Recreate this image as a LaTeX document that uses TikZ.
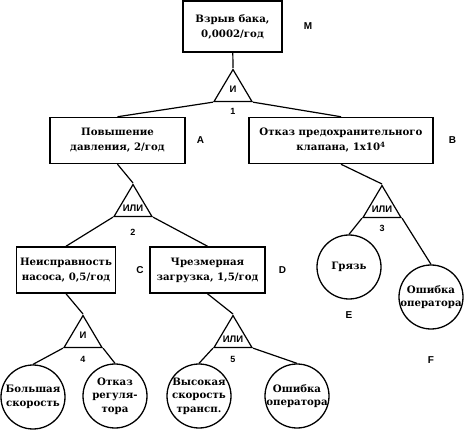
\documentclass[tikz,border=0pt]{standalone}
\usepackage{fontspec}
\setmainfont{DejaVu Serif}
\setsansfont{Liberation Sans}
\usetikzlibrary{positioning, shapes.geometric}

\begin{document}
\begin{tikzpicture}[
    x = 1pt, y = -1pt,
    evbox/.style = {
      rectangle, draw, line width = 1.5pt,
      align = center, inner sep = 0pt,
      minimum height = 46pt,
      font = \fontsize{10.2}{15}\selectfont\bfseries
    },
    evcirc/.style = {
      circle, draw, line width = 1.3pt,
      align = center, inner sep = -8pt,
      minimum size = 64pt,
      font = \fontsize{10.2}{13.5}\selectfont\bfseries
    },
    gate/.style = {
      isosceles triangle, isosceles triangle stretches,
      shape border rotate = 90, draw, line width = 1.2pt,
      minimum width = 38pt, minimum height = 32pt,
      inner xsep = -5pt, inner ysep = -2pt,
      font = \sffamily\bfseries\fontsize{9.5}{9.5}\selectfont
    },
    tag/.style = {font = \sffamily\bfseries\fontsize{10}{10}\selectfont, inner sep = 0pt},
    num/.style = {font = \sffamily\bfseries\fontsize{9}{9}\selectfont, inner sep = 0pt},
    conn/.style = {line width = 1.2pt}
  ]
  \useasboundingbox (0,0) rectangle (466,430);

  % Головное событие и вентиль 1
  \node[evbox, minimum width = 99pt, minimum height = 51pt] (M) at (232.5,26.5) {Взрыв бака,\\0,0002/год};
  \node[gate, anchor = apex] (g1) at (233,68) {И};

  % Второй уровень
  \node[evbox, minimum width = 135pt] (A) at (117.5,140.5) {Повышение\\давления, 2/год};
  \node[evbox, minimum width = 184pt] (B) at (341,140.5) {Отказ предохранительного\\клапана, 1x10\textsuperscript{4}};
  \node[gate, anchor = apex] (g2) at (133,183) {ИЛИ};
  \node[gate, anchor = apex] (g3) at (382,184) {ИЛИ};

  % Третий уровень
  \node[evbox, minimum width = 99pt] (C) at (66,270) {Неисправность\\насоса, 0,5/год};
  \node[evbox, minimum width = 115pt] (D) at (207.5,270) {Чрезмерная\\загрузка, 1,5/год};
  \node[evcirc] (E) at (349,267) {Грязь};
  \node[evcirc] (F) at (431,297) {Ошибка\\оператора};
  \node[gate, anchor = apex] (g4) at (83,314) {И};
  \node[gate, anchor = apex] (g5) at (233,314) {ИЛИ};

  % Исходные события
  \node[evcirc] (c1) at (33,397) {Большая\\скорость};
  \node[evcirc] (c2) at (115,396) {Отказ\\регуля-\\тора};
  \node[evcirc] (c3) at (199,396) {Высокая\\скорость\\трансп.};
  \node[evcirc] (c4) at (297,396) {Ошибка\\оператора};

  % Буквенные и числовые метки
  \node[tag, right = 21pt of M] (tM) {M};
  \node[tag, right = 11pt of A] (tA) {A};
  \node[tag, right = 15pt of B] (tB) {B};
  \node[tag, right = 20pt of C] (tC) {C};
  \node[tag, right = 13pt of D] (tD) {D};
  \node[tag, below = 12pt of E] (tE) {E};
  \node[tag, below = 27pt of F] (tF) {F};
  \node[num, below = 6pt of g1] (n1) {1};
  \node[num, below = 12pt of g2] (n2) {2};
  \node[num, below = 7pt of g3] (n3) {3};
  \node[num, below = 8pt of g4] (n4) {4};
  \node[num, below = 8pt of g5] (n5) {5};

  % Связи
  \draw[conn] (M) -- (g1.apex);
  \draw[conn] (g1.left corner) -- (A.north);
  \draw[conn] (g1.right corner) -- (B.north);
  \draw[conn] (A.south) -- (g2.apex);
  \draw[conn] (B.south) -- (g3.apex);
  \draw[conn] (g2.left corner) -- (C.north);
  \draw[conn] (g2.right corner) -- (D.north);
  \draw[conn] (g3.left corner) -- (E.north);
  \draw[conn] (g3.right corner) -- (F.north);
  \draw[conn] (C.south) -- (g4.apex);
  \draw[conn] (D.south) -- (g5.apex);
  \draw[conn] (g4.left corner) -- (c1.north);
  \draw[conn] (g4.right corner) -- (c2.north);
  \draw[conn] (g5.left corner) -- (c3.north);
  \draw[conn] (g5.right corner) -- (c4.north);

\end{tikzpicture}
\end{document}
